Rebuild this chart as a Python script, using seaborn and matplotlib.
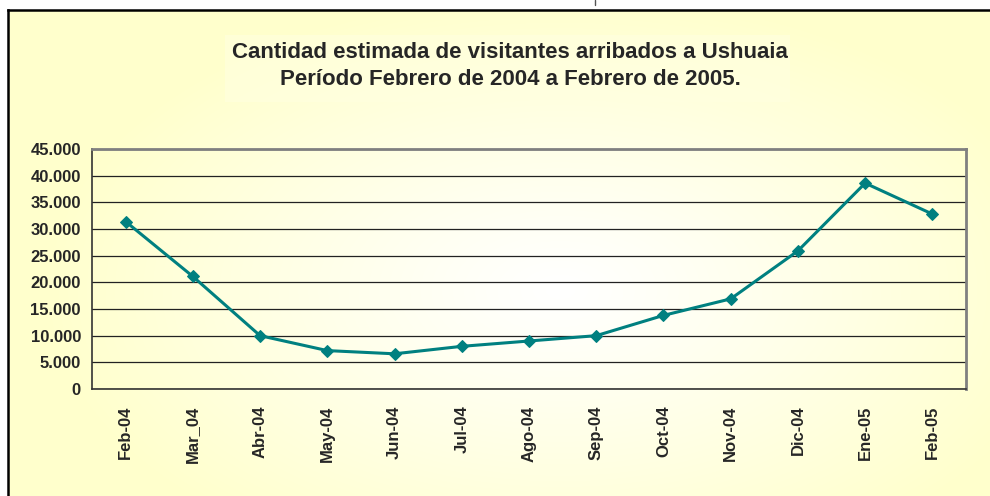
import numpy as np
import pandas as pd
import matplotlib
matplotlib.use('Agg')
import matplotlib.pyplot as plt
import matplotlib.ticker as mticker
from matplotlib.patches import Rectangle
import seaborn as sns

# Datos
meses = ['Feb-04', 'Mar_04', 'Abr-04', 'May-04', 'Jun-04', 'Jul-04', 'Ago-04',
         'Sep-04', 'Oct-04', 'Nov-04', 'Dic-04', 'Ene-05', 'Feb-05']
visitantes = [31400, 21100, 10000, 7200, 6600, 8000, 9000,
              10000, 13800, 16900, 25900, 38600, 32800]
ticks_y = [0, 5000, 10000, 15000, 20000, 25000, 30000, 35000, 40000, 45000]

titulo = 'Cantidad estimada de visitantes arribados a Ushuaia\nPeríodo Febrero de 2004 a Febrero de 2005.'

df = pd.DataFrame({'mes': meses, 'visitantes': visitantes})

sns.set_style('white')
plt.rcParams['font.family'] = ['Liberation Sans', 'DejaVu Sans']

W, H = 990, 496
fig = plt.figure(figsize=(W / 100, H / 100), dpi=100)
fig.patch.set_facecolor('white')

# fondo con degradado amarillo -> blanco
bg = fig.add_axes([0, 0, 1, 1], zorder=0)
yy, xx = np.mgrid[0:H, 0:W]
r = np.sqrt(((xx - 560) / 520.0) ** 2 + ((yy - 290) / 300.0) ** 2)
t = np.clip(r, 0, 1) ** 1.1
amarillo = np.array([1.0, 1.0, 0.8])
img = (1 - t)[..., None] * np.array([1.0, 1.0, 1.0]) + t[..., None] * amarillo
bg.imshow(img, extent=[0, W, H, 0], aspect='auto')
bg.set_xlim(0, W)
bg.set_ylim(H, 0)
bg.axis('off')

# margen blanco fuera del marco
bg.add_patch(Rectangle((0, 0), 8, H, facecolor='white', edgecolor='none', zorder=2))
bg.add_patch(Rectangle((0, 0), W, 10, facecolor='white', edgecolor='none', zorder=2))
bg.plot([8, 8], [H + 5, 10], color='black', lw=1.8, zorder=3, solid_capstyle='projecting')
bg.plot([8, W + 5], [10, 10], color='black', lw=1.8, zorder=3, solid_capstyle='projecting')
bg.plot([595, 595], [0, 5], color='#555555', lw=1, zorder=3)

# caja del titulo
bg.add_patch(Rectangle((225, 35), 565, 67, facecolor='#FFFFE0', edgecolor='none',
                       alpha=0.6, zorder=2))
bg.text(510, 66, titulo, ha='center', va='center', fontsize=16,
        fontweight='bold', linespacing=1.4, zorder=4)

ax = fig.add_axes([92 / W, 1 - 389 / H, (966 - 92) / W, (389 - 149) / H], zorder=1)
ax.patch.set_alpha(0)

sns.lineplot(data=df, x='mes', y='visitantes', ax=ax, color='#008080',
             linewidth=2.2, marker='D', markersize=6.5, markeredgecolor='#008080',
             sort=False, zorder=3)

ax.set_xlim(-0.5, len(meses) - 0.5)
ax.set_ylim(0, 45000)
ax.set_yticks(ticks_y)
ax.yaxis.set_major_formatter(mticker.FuncFormatter(lambda v, p: f'{int(v):,}'.replace(',', '.')))
ax.set_xticks(range(len(meses)))
ax.set_xticklabels(meses, rotation=90, fontweight='bold', fontsize=12)
ax.set_xticks(np.arange(-0.5, len(meses), 1), minor=True)
ax.tick_params(axis='x', which='major', length=0, pad=12)
ax.tick_params(axis='x', which='minor', length=5, width=1, color='#333333', direction='out')
ax.tick_params(axis='y', length=5, width=1, color='#333333', direction='out', pad=3,
               labelsize=12)
for lbl in ax.get_yticklabels():
    lbl.set_fontweight('bold')

ax.grid(axis='y', color='#222222', linewidth=0.9)
ax.grid(axis='x', visible=False)
ax.set_axisbelow(True)
for side in ['left', 'bottom']:
    ax.spines[side].set_color('#333333')
    ax.spines[side].set_linewidth(1.2)
for side in ['right', 'top']:
    ax.spines[side].set_color('#808080')
    ax.spines[side].set_linewidth(2)
ax.set_xlabel('')
ax.set_ylabel('')

fig.savefig('out.png', dpi=100)
